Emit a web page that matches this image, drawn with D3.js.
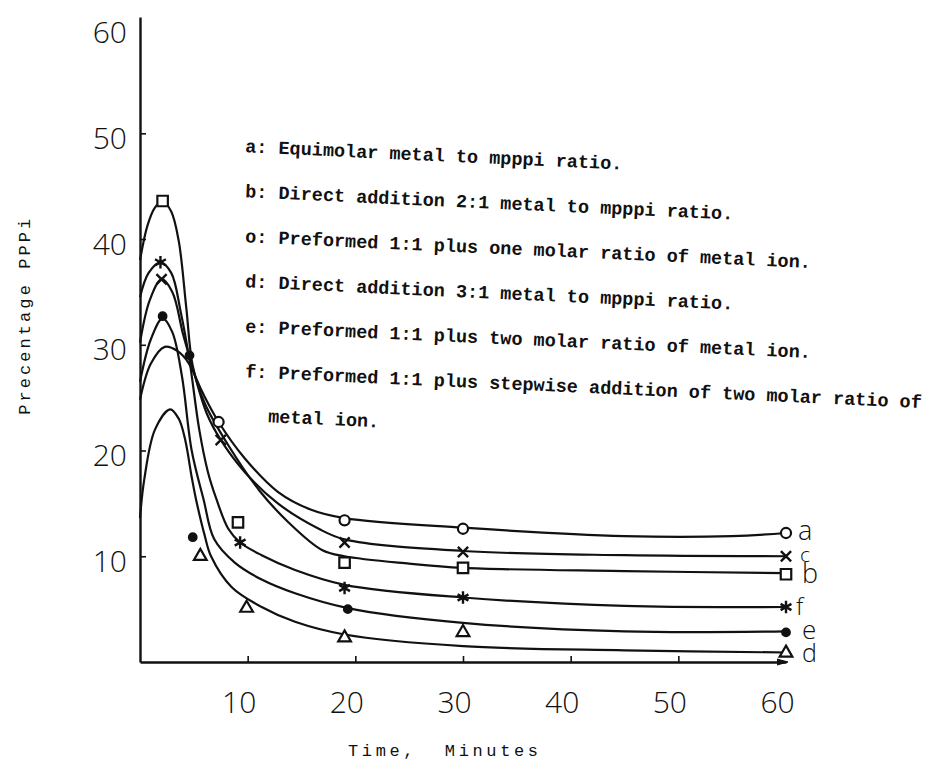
<!DOCTYPE html>
<html>
<head>
<meta charset="utf-8">
<script src="https://cdn.jsdelivr.net/npm/d3@7"></script>
<style>
  html, body { margin: 0; padding: 0; background: #fff; }
  svg { display: block; }
  .hand { font-family: "Open Sans", "DejaVu Sans", sans-serif; font-weight: 300; fill: #111; }
  .type { font-family: "Liberation Mono", "DejaVu Sans Mono", monospace; fill: #111; }
</style>
</head>
<body>
<div id="chart"></div>
<script>
// [minutes, percentage PPPi]
const curveA = [[0, 24.8], [1, 28.2], [2.3, 29.8], [3.5, 29.4], [4.5, 28.3], [5.8, 25.5], [7.3, 22.7], [9.7, 19.3], [12.8, 16.1], [15.9, 14.4], [19, 13.6], [30, 12.7], [45, 11.9], [55, 11.9], [60, 12.2]];
const curveB = [[0, 38], [0.7, 41.3], [1.4, 43], [2.1, 43.6], [2.9, 42.6], [3.6, 39.8], [4.3, 33.5], [4.9, 28], [6, 24.5], [8.2, 20.5], [11.1, 16.2], [13.8, 13.2], [16.9, 10.6], [19, 10.0], [25, 9.3], [30, 8.9], [45, 8.6], [60, 8.4]];
const curveC = [[0, 30.2], [0.9, 34.2], [2.0, 36.2], [3.0, 35], [4.0, 31], [4.9, 27.8], [6.2, 23.5], [7.5, 21.0], [9.7, 18.0], [12.8, 15.0], [16.6, 12.6], [19, 11.6], [30, 10.5], [45, 10.1], [60, 10.0]];
const curveD = [[0, 13.6], [0.4, 17.3], [1.4, 22], [2.8, 23.9], [3.6, 23], [4.2, 21], [4.8, 17.5], [5.2, 15.4], [6.0, 12], [6.6, 10], [8.5, 7.1], [11.3, 5.2], [14.4, 3.8], [19, 2.6], [30, 1.5], [45, 1.1], [60, 0.9]];
const curveE = [[0, 26.5], [1, 30.5], [2.1, 32.5], [3, 31.2], [3.9, 27], [4.8, 20], [5.9, 15.4], [6.9, 11.6], [8.8, 9.4], [11.3, 7.8], [14.4, 6.5], [19.3, 5.1], [30, 3.7], [45, 2.9], [60, 2.9]];
const curveF = [[0, 34.5], [0.8, 36.8], [1.9, 37.8], [2.9, 36.8], [3.8, 33], [4.6, 28.5], [5.5, 22], [6.3, 18], [7.1, 15.4], [8.2, 12.6], [9.3, 11.3], [11.3, 10.1], [14.4, 8.7], [19, 7.3], [30, 6.1], [45, 5.3], [60, 5.2]];

// plotted points (symbols) – not always sitting on the drawn curve
const pointsA = [[7.3, 22.7], [19, 13.4], [30, 12.6], [60, 12.2]];
const pointsB = [[2.1, 43.6], [9.1, 13.2], [19, 9.4], [30, 8.9], [60, 8.3]];
const pointsC = [[2.0, 36.2], [7.5, 21.0], [19, 11.3], [30, 10.4], [60, 10.0]];
const pointsD = [[5.6, 10.0], [9.9, 5.1], [19, 2.3], [30, 2.8], [60, 0.85]];
const pointsE = [[2.1, 32.7], [4.6, 29.0], [4.9, 11.8], [19.3, 5.0], [60, 2.8]];
const pointsF = [[1.9, 37.8], [9.3, 11.3], [19, 7.0], [30, 6.1], [60, 5.2]];

const xTicks = [10, 20, 30, 40, 50, 60];
const yTicks = [10, 20, 30, 40, 50, 60];

const legendLines = [
  "a: Equimolar metal to mpppi ratio.",
  "b: Direct addition 2:1 metal to mpppi ratio.",
  "o: Preformed 1:1 plus one molar ratio of metal ion.",
  "d: Direct addition 3:1 metal to mpppi ratio.",
  "e: Preformed 1:1 plus two molar ratio of metal ion.",
  "f: Preformed 1:1 plus stepwise addition of two molar ratio of",
  "metal ion."
];

const series = [
  { key: "a", curve: curveA, points: pointsA, symbol: "circle" },
  { key: "c", curve: curveC, points: pointsC, symbol: "times" },
  { key: "b", curve: curveB, points: pointsB, symbol: "square" },
  { key: "f", curve: curveF, points: pointsF, symbol: "asterisk" },
  { key: "e", curve: curveE, points: pointsE, symbol: "dot" },
  { key: "d", curve: curveD, points: pointsD, symbol: "triangle" }
];

const width = 930;
const height = 769;

const svg = d3.select("#chart")
  .append("svg")
  .attr("width", width)
  .attr("height", height);

const x = d3.scaleLinear().domain([0, 60]).range([140, 786]);
const y = d3.scaleLinear().domain([0, 61]).range([662, 17]);

// Axes
const xAxis = svg.append("g")
  .attr("transform", `translate(0,${y(0)})`)
  .call(d3.axisBottom(x).tickValues(xTicks).tickSizeInner(-6).tickSizeOuter(0).tickPadding(30));

const yAxis = svg.append("g")
  .attr("transform", `translate(${x(0)},0)`)
  .call(d3.axisLeft(y).tickValues(yTicks).tickSizeInner(-6).tickSizeOuter(0).tickPadding(13));

[xAxis, yAxis].forEach((g) => {
  g.select(".domain").attr("stroke", "#111").attr("stroke-width", 2.4);
  g.selectAll(".tick line").attr("stroke", "#111").attr("stroke-width", 1.6);
  g.selectAll(".tick text")
    .attr("class", "hand")
    .style("font-size", "30px")
    .attr("fill", "#111");
});
xAxis.select(".tick:last-of-type line").remove();
yAxis.select(".tick:last-of-type line").remove();
xAxis.selectAll(".tick text").attr("dx", "-9px");
yAxis.selectAll(".tick text").attr("dy", "0.5em");

// little arrow head at the end of the time axis
svg.append("path")
  .attr("d", d3.line()([[x(60) - 9, y(0) - 3], [x(60) + 2, y(0)], [x(60) - 9, y(0) + 3]]))
  .attr("fill", "#111")
  .attr("stroke", "#111")
  .attr("stroke-width", 1);

// Axis titles
svg.append("text")
  .attr("class", "type")
  .attr("transform", `translate(30,${(y(40) + y(20)) / 2 - 28}) rotate(-90)`)
  .attr("text-anchor", "middle")
  .attr("textLength", 196)
  .attr("lengthAdjust", "spacing")
  .style("font-size", "17px")
  .text("Precentage PPPi");

svg.append("text")
  .attr("class", "type")
  .attr("x", (x(20) + x(40)) / 2 - 20)
  .attr("y", 756)
  .attr("text-anchor", "middle")
  .attr("textLength", 190)
  .attr("lengthAdjust", "spacing")
  .style("font-size", "17px")
  .attr("xml:space", "preserve")
  .text("Time,  Minutes");

// Curves
const line = d3.line()
  .x((d) => x(d[0]))
  .y((d) => y(d[1]))
  .curve(d3.curveCatmullRom.alpha(0.5));

svg.append("g")
  .attr("fill", "none")
  .attr("stroke", "#111")
  .attr("stroke-width", 2.2)
  .attr("stroke-linejoin", "round")
  .selectAll("path")
  .data(series)
  .join("path")
  .attr("d", (d) => line(d.curve));

// Symbols
const symbolTypes = {
  circle: d3.symbolCircle,
  square: d3.symbolSquare,
  triangle: d3.symbolTriangle,
  dot: d3.symbolCircle,
  times: d3.symbolTimes || d3.symbolX || d3.symbolCross,
  asterisk: d3.symbolAsterisk || d3.symbolStar
};
const symbolSizes = { circle: 80, square: 110, triangle: 70, dot: 45, times: 70, asterisk: 110 };
const strokeOnly = { times: true, asterisk: true };

series.forEach((s) => {
  svg.append("g")
    .selectAll("path")
    .data(s.points)
    .join("path")
    .attr("transform", (d) => `translate(${x(d[0])},${y(d[1])})`)
    .attr("d", d3.symbol().type(symbolTypes[s.symbol]).size(symbolSizes[s.symbol]))
    .attr("fill", s.symbol === "dot" ? "#111" : strokeOnly[s.symbol] ? "none" : "#fff")
    .attr("stroke", "#111")
    .attr("stroke-width", strokeOnly[s.symbol] ? 2.4 : 2.2);
});

// Hand-written series letters at the end of each curve
const endOffsets = { a: [12, 7, 27], c: [14, 6, 21], b: [16, 9, 27], f: [10, 8, 24], e: [16, 7, 26], d: [16, 9, 25] };
svg.append("g")
  .selectAll("text")
  .data(series)
  .join("text")
  .attr("class", "hand")
  .attr("x", (d) => x(d.points[d.points.length - 1][0]) + endOffsets[d.key][0])
  .attr("y", (d) => y(d.points[d.points.length - 1][1]) + endOffsets[d.key][1])
  .style("font-size", (d) => endOffsets[d.key][2] + "px")
  .text((d) => d.key);

// Typed legend, slightly skewed like the scan
const legendTop = y(48.2);
const legendGap = 45;
svg.append("g")
  .selectAll("text")
  .data(legendLines)
  .join("text")
  .attr("class", "type")
  .attr("transform", (d, i) => {
    const lx = i === legendLines.length - 1 ? 268 : 245;
    return `translate(${lx},${legendTop + i * legendGap}) rotate(2.6)`;
  })
  .style("font-size", "18.5px")
  .style("font-weight", "bold")
  .text((d) => d);
</script>
</body>
</html>
